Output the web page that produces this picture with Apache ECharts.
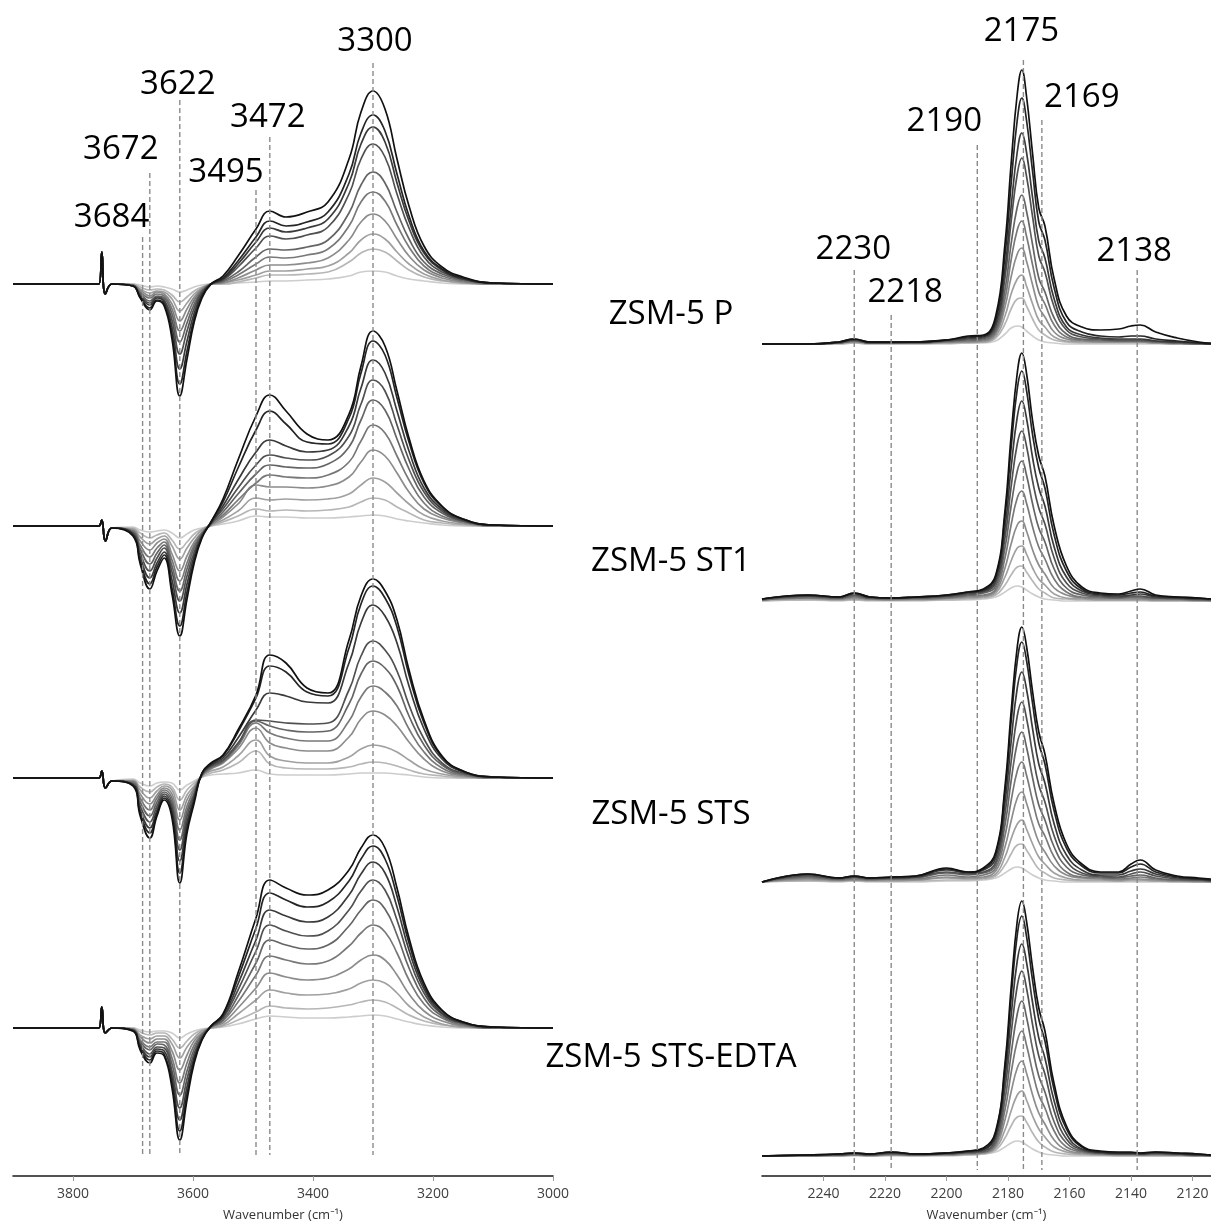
<!DOCTYPE html>
<html>
<head>
<meta charset="utf-8">
<script src="https://cdn.jsdelivr.net/npm/echarts@6.0.0/dist/echarts.min.js"></script>
<style>
html,body{margin:0;padding:0;background:#fff;}
#main{width:1211px;height:1226px;}
</style>
</head>
<body>
<div id="main"></div>
<script>
// ---------------- DATA ----------------
const sampleNames = ['ZSM-5 P', 'ZSM-5 ST1', 'ZSM-5 STS', 'ZSM-5 STS-EDTA'];
const axisTitle = 'Wavenumber (cm\u207B\u00B9)';
const leftTicks = [3800, 3600, 3400, 3200, 3000];
const rightTicks = [2240, 2220, 2200, 2180, 2160, 2140, 2120];
const leftBands = [3684, 3672, 3622, 3495, 3472, 3300];
const rightBands = [2230, 2218, 2190, 2175, 2169, 2138];

// O-H region, wavenumber grid (cm-1)
const leftWavenumbers = [3900, 3770, 3757, 3752, 3746, 3735, 3700, 3688, 3672, 3660, 3648, 3635, 3622, 3610, 3598, 3585, 3570, 3550, 3525, 3495, 3472, 3445, 3410, 3375, 3340, 3320, 3300, 3280, 3260, 3240, 3215, 3185, 3150, 3100, 3000];

// absorbance (a.u.), lowest to highest CO dose
const leftP = [
  [0,0,0,32,-10,0,0,-1,-3,-2,-3,-5,-8,-6,-3,-1, 0,0,1,2,3,3,4,5,8,12,13,12,8,5,3,1,0,0,0],
  [0,0,0,32,-10,0,0,-3,-6,-5,-6,-11,-18,-13,-7,-3, 0,0,2,6,9,9,10,12,22,31,35,32,23,14,7,3,1,0,0],
  [0,0,0,32,-10,0,-1,-5,-9,-7,-8,-15,-27,-19,-10,-4, 0,1,4,9,13,13,15,18,31,44,50,45,32,20,10,4,1,0,0],
  [0,0,0,32,-10,0,-1,-6,-12,-8,-10,-20,-37,-25,-13,-5, 0,1,6,14,19,19,21,26,44,62,70,63,45,28,14,6,2,0,0],
  [0,0,0,32,-10,0,-1,-8,-14,-10,-12,-25,-47,-32,-16,-6, 0,2,9,20,27,26,29,35,58,82,92,83,59,37,18,8,3,0,0],
  [0,0,0,32,-10,0,-1,-9,-17,-12,-14,-30,-58,-39,-20,-7, 0,3,12,27,35,34,37,44,71,99,112,101,72,45,22,10,4,1,0],
  [0,0,0,32,-10,0,-2,-11,-19,-13,-16,-36,-70,-47,-24,-8, 0,4,17,36,48,45,49,57,90,125,140,127,90,56,27,12,5,1,0],
  [0,0,0,32,-10,0,-2,-12,-21,-14,-18,-43,-85,-57,-29,-10, 0,5,20,42,56,52,56,65,101,140,157,142,101,63,31,14,5,1,0],
  [0,0,0,32,-10,0,-2,-13,-24,-16,-20,-50,-100,-67,-34,-12, 0,6,23,47,63,58,62,72,110,151,169,153,110,68,33,15,6,1,0],
  [0,0,0,32,-10,0,-2,-14,-26,-17,-22,-55,-112,-75,-38,-14, 0,8,28,55,73,67,72,82,125,172,193,175,125,78,38,17,7,1,0]
];
const leftST1 = [
  [0,0,0,6,-15,-2,-1,-4,-6,-5,-4,-7,-12,-8,-4,-2, 0,2,5,10,9,9,8,8,9,10,11,10,7,5,3,1,0,0,0],
  [0,0,0,6,-15,-2,-2,-7,-12,-9,-7,-14,-23,-16,-8,-3, 0,4,10,17,15,16,15,16,19,24,28,26,19,13,6,3,1,0,0],
  [0,0,0,6,-15,-2,-3,-11,-18,-13,-10,-20,-33,-22,-12,-4, 1,6,15,28,26,27,26,27,32,41,48,44,33,22,11,5,2,0,0],
  [0,0,0,6,-15,-2,-4,-15,-24,-17,-13,-28,-45,-30,-16,-6, 1,9,22,41,39,39,38,40,49,64,76,70,53,34,17,8,3,0,0],
  [0,0,0,6,-15,-2,-5,-19,-31,-22,-16,-34,-55,-37,-19,-7, 2,11,26,43,51,49,48,51,64,85,101,93,70,46,23,10,4,0,0],
  [0,0,0,6,-15,-2,-6,-23,-38,-27,-19,-40,-65,-43,-22,-8, 2,14,32,52,61,59,58,62,79,106,126,116,87,57,29,13,5,1,0],
  [0,0,0,6,-15,-2,-7,-27,-45,-32,-22,-46,-75,-50,-26,-9, 3,17,38,61,71,68,66,70,90,122,146,135,101,66,34,15,5,1,0],
  [0,0,0,6,-15,-2,-8,-31,-52,-37,-26,-54,-87,-58,-30,-10, 3,20,46,74,86,80,74,76,100,138,166,153,115,75,38,17,6,1,0],
  [0,0,0,6,-15,-2,-9,-35,-58,-41,-29,-62,-100,-66,-34,-11, 4,24,58,96,115,102,84,82,108,153,185,171,128,84,43,19,7,1,0],
  [0,0,0,6,-15,-2,-10,-38,-63,-45,-32,-68,-110,-73,-37,-12, 4,27,66,110,131,115,92,86,112,160,195,180,135,88,45,20,7,1,0]
];
const leftSTS = [
  [0,0,0,7,-10,-3,-1,-5,-8,-5,-4,-5,-12,-7,-3,1, 3,4,5,8,4,3,3,3,4,5,5,5,4,3,1,0,0,0,0],
  [0,0,0,7,-10,-3,-2,-9,-14,-9,-6,-9,-22,-12,-5,1, 5,8,15,27,14,10,9,9,11,14,16,15,12,8,4,2,0,0,0],
  [0,0,0,7,-10,-3,-3,-12,-20,-13,-8,-12,-32,-17,-8,2, 7,11,22,38,22,17,15,15,21,29,33,31,26,18,9,4,1,0,0],
  [0,0,0,7,-10,-3,-3,-16,-26,-17,-10,-16,-42,-22,-10,2, 9,15,29,50,35,30,27,27,41,59,67,63,52,36,19,7,2,0,0],
  [0,0,0,7,-10,-3,-4,-20,-32,-20,-12,-20,-52,-28,-12,3, 10,16,32,55,45,40,37,37,57,81,92,86,72,49,26,10,3,0,0],
  [0,0,0,7,-10,-3,-5,-24,-38,-24,-14,-24,-62,-33,-15,3, 11,17,34,57,52,48,46,47,74,104,117,110,92,62,33,13,4,1,0],
  [0,0,0,7,-10,-3,-6,-28,-44,-28,-16,-28,-72,-38,-17,4, 12,18,35,58,57,55,54,55,88,122,137,128,107,73,39,15,5,1,0],
  [0,0,0,7,-10,-3,-7,-32,-50,-32,-18,-32,-83,-44,-20,4, 13,20,40,68,85,82,76,75,115,155,173,162,135,92,49,19,6,1,0],
  [0,0,0,7,-10,-3,-7,-35,-55,-35,-20,-36,-95,-50,-22,5, 14,22,46,80,112,106,86,82,130,174,192,180,151,103,55,21,7,1,0],
  [0,0,0,7,-10,-3,-8,-38,-60,-38,-22,-40,-105,-55,-25,5, 15,23,48,83,123,115,90,85,138,182,199,187,158,108,58,22,7,1,0]
];
const leftEDTA = [
  [0,0,0,21,-5,0,0,-2,-4,-3,-3,-5,-10,-6,-3,-1, 0,1,4,9,12,11,10,10,11,12,13,12,9,6,3,1,0,0,0],
  [0,0,0,21,-5,0,0,-4,-7,-5,-5,-11,-20,-13,-6,-2, 0,2,8,16,22,20,19,20,23,26,28,26,20,13,7,3,1,0,0],
  [0,0,0,21,-5,0,-1,-7,-11,-8,-8,-16,-30,-19,-10,-3, 0,3,14,28,38,35,33,34,39,45,48,45,35,22,11,4,1,0,0],
  [0,0,0,21,-5,0,-1,-9,-15,-11,-11,-23,-42,-27,-13,-5, 1,5,20,40,55,51,48,50,59,68,73,68,53,34,17,7,2,0,0],
  [0,0,0,21,-5,0,-1,-12,-19,-14,-14,-30,-55,-35,-17,-6, 1,7,26,53,72,68,64,67,82,95,103,96,75,48,24,10,3,0,0],
  [0,0,0,21,-5,0,-2,-14,-22,-16,-17,-36,-67,-43,-21,-7, 1,8,32,65,88,83,79,83,102,118,128,119,93,60,30,12,4,0,0],
  [0,0,0,21,-5,0,-2,-16,-26,-19,-20,-43,-80,-51,-25,-9, 1,10,38,77,103,97,92,97,118,137,148,138,108,70,35,14,5,1,0],
  [0,0,0,21,-5,0,-2,-18,-29,-21,-23,-49,-92,-59,-29,-10, 2,11,44,88,118,112,106,111,133,154,166,155,121,78,39,15,5,1,0],
  [0,0,0,21,-5,0,-3,-20,-32,-23,-26,-55,-103,-66,-32,-11, 2,13,50,100,135,128,121,126,147,169,182,169,132,85,42,17,6,1,0],
  [0,0,0,21,-5,0,-3,-22,-35,-25,-28,-60,-112,-72,-35,-12, 2,14,55,110,148,140,133,138,158,180,193,180,140,90,45,18,6,1,0]
];

// C-O region, wavenumber grid (cm-1)
const rightWavenumbers = [2260, 2245, 2235, 2230, 2225, 2218, 2210, 2200, 2193, 2188, 2184, 2181, 2179, 2177, 2175.5, 2174, 2172, 2170, 2168, 2165, 2161, 2156, 2150, 2144, 2140, 2137, 2132, 2125, 2118, 2114];

const rightP = [
  [0,0,0,1,0,0,0,0,1,1, 3,10,16,18,17,13,8,4,2,1, 0,0,0,0,0,0,0,0,0,0],
  [0,0,0,1,0,0,0,1,1,2, 6,20,35,45,46,38,25,14,9,4, 2,1,1,1,1,1,1,0,0,0],
  [0,0,1,2,1,1,1,1,2,2, 8,28,50,65,69,58,40,24,17,7, 3,2,2,2,2,2,1,0,0,0],
  [0,0,1,2,1,1,1,2,2,3, 10,37,67,90,96,83,59,37,27,12, 5,3,2,2,2,2,1,1,0,0],
  [0,0,1,3,1,1,1,2,3,4, 12,45,84,114,123,108,79,52,40,19, 7,4,3,3,3,3,2,1,0,0],
  [0,0,1,3,1,1,1,3,4,5, 14,54,100,137,149,133,99,66,52,26, 10,5,4,3,3,3,2,1,0,0],
  [0,0,1,4,1,1,2,3,5,6, 17,66,122,170,186,168,127,88,72,37, 14,7,5,4,4,4,3,2,1,0],
  [0,0,2,4,2,2,2,4,6,7, 20,75,137,192,211,192,146,103,86,45, 17,9,6,5,5,5,3,2,1,0],
  [0,0,2,5,2,2,2,4,7,8, 24,88,160,224,246,224,172,122,104,56, 22,12,8,7,8,8,5,3,1,0],
  [0,0,2,5,2,2,2,4,8,9, 28,100,180,250,274,248,190,136,118,65, 28,17,14,15,18,19,12,6,2,1]
];
const rightST1 = [
  [0,1,0,1,0,0,0,1,1,2, 4,9,13,15,14,11,7,4,2,1, 0,0,0,0,0,0,0,0,0,0],
  [0,1,1,1,1,1,1,1,2,3, 6,16,26,34,35,29,20,12,8,3, 2,1,1,1,1,1,0,0,0,0],
  [1,2,1,2,1,1,1,2,3,4, 8,24,40,53,55,47,33,22,16,7, 3,2,1,1,1,1,1,1,0,0],
  [1,3,2,3,2,1,2,3,4,5, 10,33,57,76,80,70,51,36,27,13, 6,3,2,2,2,2,1,1,1,0],
  [1,3,2,4,2,2,2,3,5,6, 12,43,76,103,110,98,74,54,42,22, 9,4,3,3,3,3,2,2,1,1],
  [1,4,3,5,3,2,3,4,6,8, 15,53,95,130,140,126,97,73,59,32, 13,6,4,3,4,4,3,2,1,1],
  [2,5,3,6,3,3,3,5,7,9, 18,63,114,157,170,155,120,93,77,43, 18,8,5,4,5,5,3,3,2,1],
  [2,5,4,7,4,3,4,5,8,10, 21,73,133,184,200,183,143,113,95,54, 24,10,6,5,6,7,4,3,2,2],
  [2,6,4,8,4,3,4,6,9,11, 24,84,153,212,230,211,166,133,113,66, 30,12,7,6,8,9,5,4,3,2],
  [2,6,4,8,4,3,4,6,9,12, 26,90,165,228,248,228,180,145,125,75, 35,14,8,7,10,12,6,4,3,2]
];
const rightSTS = [
  [0,1,0,1,0,0,0,1,1,2, 4,9,13,15,14,11,7,4,2,1, 0,0,0,0,0,0,0,0,0,0],
  [0,1,1,1,1,1,1,2,2,3, 6,17,28,37,38,32,22,13,9,4, 2,1,1,1,1,1,1,0,0,0],
  [0,2,1,2,1,1,2,4,3,4, 8,25,43,58,62,53,38,25,18,9, 4,2,2,1,2,2,1,1,0,0],
  [0,3,2,2,2,2,2,5,4,5, 11,35,61,84,90,79,58,40,30,16, 7,4,3,2,3,3,2,1,1,0],
  [0,4,2,3,2,3,3,7,5,7, 14,46,81,111,120,107,81,58,46,25, 10,5,4,3,4,5,3,2,1,1],
  [0,5,3,4,3,3,4,9,7,9, 17,57,101,139,150,135,104,77,62,35, 15,7,5,4,6,7,4,2,2,1],
  [0,6,3,5,3,4,5,10,8,10, 20,68,120,166,180,164,128,97,80,46, 21,9,6,5,8,10,6,3,2,1],
  [0,7,4,5,4,4,5,12,9,12, 24,79,140,194,210,193,153,118,99,58, 27,12,7,7,11,13,8,4,3,2],
  [0,8,4,6,4,5,6,13,10,13, 28,90,160,221,240,222,178,139,118,71, 34,16,9,9,15,18,10,5,3,2],
  [0,8,4,6,4,5,6,14,10,14, 30,95,170,235,255,236,190,150,128,78, 38,18,10,10,18,22,12,6,4,3]
];
const rightEDTA = [
  [0,0,0,0,0,0,0,0,1,2, 4,9,13,15,14,11,7,4,2,1, 0,0,0,0,0,0,0,0,0,0],
  [0,0,0,1,0,1,0,1,1,2, 6,18,30,39,40,34,23,14,9,4, 2,1,1,0,0,0,0,0,0,0],
  [0,0,0,1,0,1,1,1,2,3, 8,26,45,61,65,56,40,27,19,9, 4,2,1,1,1,1,1,1,0,0],
  [0,0,1,1,1,1,1,1,2,3, 10,36,64,88,95,83,61,43,32,16, 6,3,2,1,1,1,1,1,0,0],
  [0,0,1,1,1,2,1,2,3,4, 12,46,83,115,125,111,84,61,48,25, 9,4,2,2,2,1,2,1,1,0],
  [0,1,1,2,1,2,1,2,3,4, 14,56,102,142,155,139,107,80,64,34, 13,5,3,2,2,2,2,2,1,0],
  [0,1,1,2,1,3,2,2,4,5, 17,67,122,170,185,168,131,100,82,45, 17,6,3,2,2,2,3,2,1,1],
  [0,1,2,3,2,3,2,3,4,6, 20,77,140,195,212,194,153,118,98,55, 22,7,4,3,3,2,3,2,1,1],
  [0,1,2,3,2,4,2,3,5,7, 23,87,158,221,240,220,175,137,115,66, 27,9,4,3,3,3,4,3,2,1],
  [0,1,2,3,2,4,2,3,5,8, 25,92,168,235,255,235,188,148,125,72, 30,10,5,4,4,3,4,3,2,1]
];

// ---------------- LAYOUT / STYLE ----------------
const leftSets = [leftP, leftST1, leftSTS, leftEDTA];
const rightSets = [rightP, rightST1, rightSTS, rightEDTA];
const leftBase = [284, 526, 778, 1028];
const rightBase = [344, 601, 882, 1156];
const grays = ['#cdcdcd', '#b6b6b6', '#a0a0a0', '#8c8c8c', '#787878', '#646464', '#505050', '#3a3a3a', '#252525', '#111111'];
const L = {left: 13, width: 540, min: 3000, max: 3900};
const R = {left: 762, width: 449, min: 2114, max: 2260};
const leftBandTop = [237, 173, 100, 190, 137, 63];
const leftBandBottom = 1155;
const leftLabelY = [218, 150, 85, 173, 118, 42];
const leftLabelDx = [-31, -29, -2, -30, -2, 2];
const rightBandTop = [270, 315, 145, 60, 120, 270];
const rightBandBottom = 1170;
const rightLabelY = [250, 293, 122, 32, 98, 252];
const rightLabelDx = [-1, 14, -33, -2, 40, -3];
const sampleLabelX = 671;
const sampleLabelY = [315, 562, 815, 1058];
const FONT = '"Open Sans", "Noto Sans", sans-serif';

const grid = [], xAxis = [], yAxis = [], series = [];

function spectrumSeries(g, wn, curve, color) {
  return {
    type: 'line', xAxisIndex: g, yAxisIndex: g,
    data: wn.map((w, k) => [w, curve[k]]),
    showSymbol: false, symbol: 'none', smooth: 0.45,
    lineStyle: {color: color, width: 1.7}, silent: true, z: 2
  };
}

leftSets.forEach((set, i) => {
  grid.push({left: L.left, width: L.width, top: leftBase[i] - 200, height: 330, outerBoundsMode: 'none'});
  xAxis.push({type: 'value', gridIndex: i, min: L.min, max: L.max, inverse: true, show: false});
  yAxis.push({type: 'value', gridIndex: i, min: -130, max: 200, show: false});
  set.forEach((curve, k) => series.push(spectrumSeries(i, leftWavenumbers, curve, grays[k])));
});
rightSets.forEach((set, j) => {
  const g = 4 + j;
  grid.push({left: R.left, width: R.width, top: rightBase[j] - 290, height: 310, outerBoundsMode: 'none'});
  xAxis.push({type: 'value', gridIndex: g, min: R.min, max: R.max, inverse: true, show: false});
  yAxis.push({type: 'value', gridIndex: g, min: -20, max: 290, show: false});
  set.forEach((curve, k) => series.push(spectrumSeries(g, rightWavenumbers, curve, grays[k])));
});

// overlay grids (pixel-like y) carrying the visible wavenumber axes and band markers
function overlayAxis(g, cfg, ticks) {
  grid.push({left: cfg.left, width: cfg.width, top: 0, height: 1176, outerBoundsMode: 'none'});
  xAxis.push({
    type: 'value', gridIndex: g, min: cfg.min, max: cfg.max, inverse: true,
    axisLine: {onZero: false, lineStyle: {color: '#1a1a1a', width: 1.6}},
    axisTick: {show: true, length: 5, customValues: ticks, lineStyle: {color: '#999', width: 1}},
    axisLabel: {customValues: ticks, fontSize: 14, color: '#404040', margin: 11, fontFamily: FONT,
                formatter: v => String(v)},
    splitLine: {show: false},
    name: axisTitle, nameLocation: 'middle', nameGap: 33,
    nameTextStyle: {fontSize: 13, color: '#333', fontFamily: FONT}
  });
  yAxis.push({type: 'value', gridIndex: g, min: 0, max: 1176, inverse: true, show: false});
}
overlayAxis(8, L, leftTicks);
overlayAxis(9, R, rightTicks);

function bandSeries(g, bands, tops, bottom, labelY, labelDx) {
  bands.forEach((b, i) => {
    series.push({
      type: 'line', xAxisIndex: g, yAxisIndex: g, silent: true, z: 5,
      data: [[b, tops[i]], [b, bottom]], symbol: 'none', showSymbol: false,
      lineStyle: {color: '#8a8a8a', width: 1.4, type: [5, 3]}
    });
  });
  series.push({
    type: 'scatter', xAxisIndex: g, yAxisIndex: g, silent: true, symbolSize: 0, z: 6,
    itemStyle: {color: '#000', opacity: 1},
    data: bands.map((b, i) => ({value: [b, labelY[i]], label: {offset: [labelDx[i], 0]}})),
    label: {show: true, position: 'inside', formatter: p => String(p.value[0]),
            fontSize: 33, color: '#000', opacity: 1, textBorderWidth: 0, fontFamily: FONT}
  });
}
bandSeries(8, leftBands, leftBandTop, leftBandBottom, leftLabelY, leftLabelDx);
bandSeries(9, rightBands, rightBandTop, rightBandBottom, rightLabelY, rightLabelDx);

const graphic = sampleNames.map((s, i) => ({
  type: 'text', x: sampleLabelX, y: sampleLabelY[i], silent: true,
  style: {text: s, fontSize: 33, fontFamily: FONT, fill: '#000', align: 'center', verticalAlign: 'middle'}
}));

const chart = echarts.init(document.getElementById('main'), null, {renderer: 'canvas', width: 1211, height: 1226});
chart.setOption({
  animation: false,
  backgroundColor: '#ffffff',
  grid: grid, xAxis: xAxis, yAxis: yAxis, series: series, graphic: graphic
});
</script>
</body>
</html>
